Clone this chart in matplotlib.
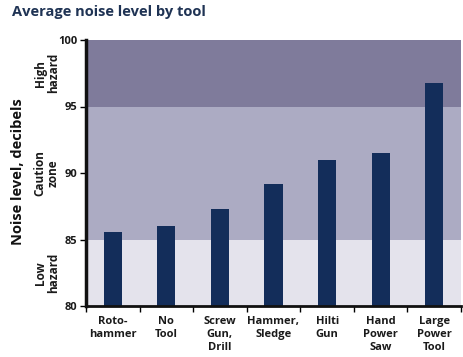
import numpy as np
import matplotlib
matplotlib.use('Agg')
import matplotlib.pyplot as plt

plt.rcParams['font.family'] = ['Open Sans', 'DejaVu Sans']

tools = ['Roto-\nhammer', 'No\nTool', 'Screw\nGun,\nDrill', 'Hammer,\nSledge',
         'Hilti\nGun', 'Hand\nPower\nSaw', 'Large\nPower\nTool']
noise = [85.6, 86.0, 87.3, 89.2, 91.0, 91.5, 96.8]

zones = [(80, 85, '#e4e3ec', 'Low\nhazard'),
         (85, 95, '#acabc3', 'Caution\nzone'),
         (95, 100, '#7f7b9b', 'High\nhazard')]

fig = plt.figure(figsize=(4.63, 3.57), dpi=100)
ax = fig.add_axes([86/463, 51/357, 375/463, 266/357])

for lo, hi, col, lab in zones:
    ax.axhspan(lo, hi, color=col, zorder=0, lw=0)
    ax.text(-0.105, (lo + hi) / 2, lab, transform=ax.get_yaxis_transform(),
            rotation=90, ha='center', va='center', fontsize=8.5, fontweight='bold',
            color='#1a1a1a', linespacing=1.0)

x = np.arange(len(tools))
ax.bar(x, noise, width=0.34, color='#132d5a', bottom=0, zorder=2)
ax.set_ylim(80, 100)
ax.set_xlim(-0.5, len(tools) - 0.5)
ax.set_yticks([80, 85, 90, 95, 100])
ax.tick_params(axis='y', labelsize=8, length=4, width=1, pad=2, labelcolor='#1a1a1a')
for t in ax.get_yticklabels():
    t.set_fontweight('bold')

ax.set_xticks(np.arange(len(tools) + 1) - 0.5)
ax.set_xticklabels([])
ax.set_xticks(x, minor=True)
ax.set_xticklabels(tools, minor=True, fontsize=8, fontweight='bold', color='#1a1a1a',
                   linespacing=1.25, va='top')
ax.tick_params(axis='x', which='major', length=4, width=1)
ax.tick_params(axis='x', which='minor', length=0, pad=7)

for s in ['top', 'right']:
    ax.spines[s].set_visible(False)
ax.spines['left'].set_linewidth(2.5)
ax.spines['bottom'].set_linewidth(2)
ax.spines['left'].set_color('#111111')
ax.spines['bottom'].set_color('#111111')

fig.text(18/463, 1 - 172/357, 'Noise level, decibels', fontsize=10.5, fontweight='bold',
         rotation=90, ha='center', va='center', color='#111111')

fig.text(12/463, 1 - 12/357, 'Average noise level by tool', fontsize=10.5,
         fontweight='bold', color='#1f3354', ha='left', va='center')

fig.savefig('out.png', dpi=100)
